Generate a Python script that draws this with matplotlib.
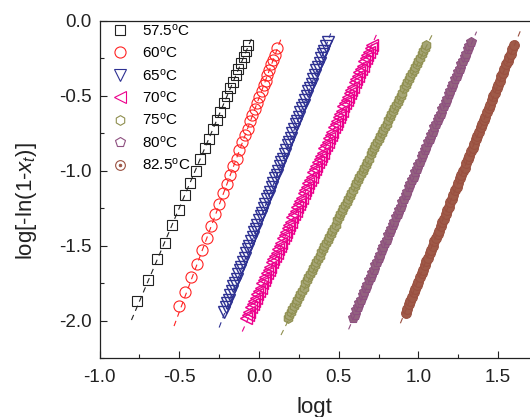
import numpy as np
import matplotlib.pyplot as plt
from matplotlib.lines import Line2D

plt.rcParams['font.family'] = ['Liberation Sans', 'DejaVu Sans']
plt.rcParams['mathtext.fontset'] = 'custom'
plt.rcParams['mathtext.rm'] = 'Liberation Sans'
plt.rcParams['mathtext.it'] = 'Liberation Sans:italic'

# ── data: logt vs log[-ln(1-x_t)] for each temperature ──────────────────────
labels = [r'57.5$^{\rm o}$C', r'60$^{\rm o}$C', r'65$^{\rm o}$C', r'70$^{\rm o}$C',
          r'75$^{\rm o}$C', r'80$^{\rm o}$C', r'82.5$^{\rm o}$C']

x575 = [-0.766, -0.699, -0.641, -0.590, -0.544, -0.503, -0.465, -0.430, -0.398, -0.368,
        -0.340, -0.314, -0.289, -0.265, -0.243, -0.222, -0.202, -0.182, -0.164, -0.146,
        -0.129, -0.113, -0.097, -0.082, -0.067]
y575 = [-1.87, -1.73, -1.59, -1.48, -1.36, -1.26, -1.16, -1.08, -1.00, -0.92,
        -0.85, -0.79, -0.72, -0.66, -0.61, -0.55, -0.50, -0.45, -0.41, -0.36,
        -0.32, -0.28, -0.24, -0.20, -0.16]

x60 = [-0.503, -0.462, -0.424, -0.389, -0.357, -0.327, -0.299, -0.273, -0.248, -0.224,
       -0.202, -0.181, -0.161, -0.141, -0.123, -0.105, -0.088, -0.072, -0.056, -0.041,
       -0.026, -0.012, 0.002, 0.016, 0.029, 0.041, 0.053, 0.065, 0.077, 0.088,
       0.099, 0.110]
y60 = [-1.90, -1.81, -1.71, -1.62, -1.53, -1.45, -1.37, -1.29, -1.22, -1.15,
       -1.09, -1.03, -0.97, -0.92, -0.86, -0.81, -0.76, -0.72, -0.67, -0.63,
       -0.59, -0.55, -0.51, -0.47, -0.43, -0.40, -0.36, -0.33, -0.29, -0.26,
       -0.23, -0.18]

x65 = [-0.22, -0.21, -0.20, -0.19, -0.18, -0.17, -0.16, -0.15, -0.14, -0.13,
       -0.12, -0.11, -0.10, -0.09, -0.08, -0.07, -0.06, -0.05, -0.04, -0.03,
       -0.02, -0.01, 0.00, 0.01, 0.02, 0.03, 0.04, 0.05, 0.06, 0.07,
       0.08, 0.09, 0.10, 0.11, 0.12, 0.13, 0.14, 0.15, 0.16, 0.17,
       0.18, 0.19, 0.20, 0.21, 0.22, 0.23, 0.24, 0.25, 0.26, 0.27,
       0.28, 0.29, 0.30, 0.31, 0.32, 0.33, 0.34, 0.35, 0.36, 0.37,
       0.38, 0.39, 0.40, 0.41, 0.42, 0.43]
y65 = [-1.94, -1.91, -1.88, -1.86, -1.83, -1.80, -1.77, -1.75, -1.72, -1.69,
       -1.66, -1.64, -1.61, -1.58, -1.55, -1.52, -1.50, -1.47, -1.44, -1.41,
       -1.39, -1.36, -1.33, -1.30, -1.28, -1.25, -1.22, -1.19, -1.17, -1.14,
       -1.11, -1.08, -1.05, -1.03, -1.00, -0.97, -0.94, -0.92, -0.89, -0.86,
       -0.83, -0.81, -0.78, -0.75, -0.72, -0.69, -0.67, -0.64, -0.61, -0.58,
       -0.56, -0.53, -0.50, -0.47, -0.45, -0.42, -0.39, -0.36, -0.33, -0.31,
       -0.28, -0.25, -0.22, -0.20, -0.17, -0.14]

x70 = [-0.08, -0.07, -0.06, -0.05, -0.04, -0.03, -0.02, -0.01, 0.00, 0.01,
       0.02, 0.03, 0.04, 0.05, 0.06, 0.07, 0.08, 0.09, 0.10, 0.11,
       0.12, 0.13, 0.14, 0.15, 0.16, 0.17, 0.18, 0.19, 0.20, 0.21,
       0.22, 0.23, 0.24, 0.25, 0.26, 0.27, 0.28, 0.29, 0.30, 0.31,
       0.32, 0.33, 0.34, 0.35, 0.36, 0.37, 0.38, 0.39, 0.40, 0.41,
       0.42, 0.43, 0.44, 0.45, 0.46, 0.47, 0.48, 0.49, 0.50, 0.51,
       0.52, 0.53, 0.54, 0.55, 0.56, 0.57, 0.58, 0.59, 0.60, 0.61,
       0.62, 0.63, 0.64, 0.65, 0.66, 0.67, 0.68, 0.69, 0.70, 0.71]
y70 = [-1.98, -1.96, -1.94, -1.91, -1.89, -1.87, -1.85, -1.82, -1.80, -1.78,
       -1.75, -1.73, -1.71, -1.68, -1.66, -1.64, -1.61, -1.59, -1.57, -1.55,
       -1.52, -1.50, -1.48, -1.45, -1.43, -1.41, -1.38, -1.36, -1.34, -1.31,
       -1.29, -1.27, -1.24, -1.22, -1.20, -1.18, -1.15, -1.13, -1.11, -1.08,
       -1.06, -1.04, -1.01, -0.99, -0.97, -0.94, -0.92, -0.90, -0.88, -0.85,
       -0.83, -0.81, -0.78, -0.76, -0.74, -0.71, -0.69, -0.67, -0.64, -0.62,
       -0.60, -0.57, -0.55, -0.53, -0.51, -0.48, -0.46, -0.44, -0.41, -0.39,
       -0.37, -0.34, -0.32, -0.30, -0.27, -0.25, -0.23, -0.21, -0.18, -0.16]

x75 = [0.18, 0.19, 0.20, 0.21, 0.22, 0.23, 0.24, 0.25, 0.26, 0.27,
       0.28, 0.29, 0.30, 0.31, 0.32, 0.33, 0.34, 0.35, 0.36, 0.37,
       0.38, 0.39, 0.40, 0.41, 0.42, 0.43, 0.44, 0.45, 0.46, 0.47,
       0.48, 0.49, 0.50, 0.51, 0.52, 0.53, 0.54, 0.55, 0.56, 0.57,
       0.58, 0.59, 0.60, 0.61, 0.62, 0.63, 0.64, 0.65, 0.66, 0.67,
       0.68, 0.69, 0.70, 0.71, 0.72, 0.73, 0.74, 0.75, 0.76, 0.77,
       0.78, 0.79, 0.80, 0.81, 0.82, 0.83, 0.84, 0.85, 0.86, 0.87,
       0.88, 0.89, 0.90, 0.91, 0.92, 0.93, 0.94, 0.95, 0.96, 0.97,
       0.98, 0.99, 1.00, 1.01, 1.02, 1.03, 1.04, 1.05]
y75 = [-1.98, -1.96, -1.94, -1.92, -1.90, -1.88, -1.86, -1.84, -1.82, -1.80,
       -1.78, -1.75, -1.73, -1.71, -1.69, -1.67, -1.65, -1.63, -1.61, -1.59,
       -1.57, -1.54, -1.52, -1.50, -1.48, -1.46, -1.44, -1.42, -1.40, -1.38,
       -1.36, -1.33, -1.31, -1.29, -1.27, -1.25, -1.23, -1.21, -1.19, -1.17,
       -1.15, -1.13, -1.10, -1.08, -1.06, -1.04, -1.02, -1.00, -0.98, -0.96,
       -0.94, -0.92, -0.89, -0.87, -0.85, -0.83, -0.81, -0.79, -0.77, -0.75,
       -0.73, -0.71, -0.69, -0.66, -0.64, -0.62, -0.60, -0.58, -0.56, -0.54,
       -0.52, -0.50, -0.48, -0.45, -0.43, -0.41, -0.39, -0.37, -0.35, -0.33,
       -0.31, -0.29, -0.27, -0.25, -0.22, -0.20, -0.18, -0.16]

x80 = [0.59, 0.60, 0.61, 0.62, 0.63, 0.64, 0.65, 0.66, 0.67, 0.68,
       0.69, 0.70, 0.71, 0.72, 0.73, 0.74, 0.75, 0.76, 0.77, 0.78,
       0.79, 0.80, 0.81, 0.82, 0.83, 0.84, 0.85, 0.86, 0.87, 0.88,
       0.89, 0.90, 0.91, 0.92, 0.93, 0.94, 0.95, 0.96, 0.97, 0.98,
       0.99, 1.00, 1.01, 1.02, 1.03, 1.04, 1.05, 1.06, 1.07, 1.08,
       1.09, 1.10, 1.11, 1.12, 1.13, 1.14, 1.15, 1.16, 1.17, 1.18,
       1.19, 1.20, 1.21, 1.22, 1.23, 1.24, 1.25, 1.26, 1.27, 1.28,
       1.29, 1.30, 1.31, 1.32, 1.33]
y80 = [-1.98, -1.96, -1.93, -1.91, -1.88, -1.86, -1.83, -1.81, -1.78, -1.76,
       -1.73, -1.71, -1.68, -1.66, -1.63, -1.61, -1.58, -1.56, -1.53, -1.51,
       -1.48, -1.46, -1.43, -1.41, -1.39, -1.36, -1.34, -1.31, -1.29, -1.26,
       -1.24, -1.21, -1.19, -1.16, -1.14, -1.11, -1.09, -1.06, -1.04, -1.01,
       -0.99, -0.96, -0.94, -0.91, -0.89, -0.86, -0.84, -0.81, -0.79, -0.76,
       -0.74, -0.71, -0.69, -0.66, -0.64, -0.62, -0.59, -0.57, -0.54, -0.52,
       -0.49, -0.47, -0.44, -0.42, -0.39, -0.37, -0.34, -0.32, -0.29, -0.27,
       -0.24, -0.22, -0.19, -0.17, -0.14]

x825 = [0.92, 0.93, 0.94, 0.95, 0.96, 0.97, 0.98, 0.99, 1.00, 1.01,
        1.02, 1.03, 1.04, 1.05, 1.06, 1.07, 1.08, 1.09, 1.10, 1.11,
        1.12, 1.13, 1.14, 1.15, 1.16, 1.17, 1.18, 1.19, 1.20, 1.21,
        1.22, 1.23, 1.24, 1.25, 1.26, 1.27, 1.28, 1.29, 1.30, 1.31,
        1.32, 1.33, 1.34, 1.35, 1.36, 1.37, 1.38, 1.39, 1.40, 1.41,
        1.42, 1.43, 1.44, 1.45, 1.46, 1.47, 1.48, 1.49, 1.50, 1.51,
        1.52, 1.53, 1.54, 1.55, 1.56, 1.57, 1.58, 1.59, 1.60]
y825 = [-1.95, -1.92, -1.89, -1.87, -1.84, -1.81, -1.79, -1.76, -1.74, -1.71,
        -1.68, -1.66, -1.63, -1.60, -1.58, -1.55, -1.53, -1.50, -1.47, -1.45,
        -1.42, -1.40, -1.37, -1.34, -1.32, -1.29, -1.26, -1.24, -1.21, -1.19,
        -1.16, -1.13, -1.11, -1.08, -1.05, -1.03, -1.00, -0.98, -0.95, -0.92,
        -0.90, -0.87, -0.85, -0.82, -0.79, -0.77, -0.74, -0.71, -0.69, -0.66,
        -0.64, -0.61, -0.58, -0.56, -0.53, -0.50, -0.48, -0.45, -0.43, -0.40,
        -0.37, -0.35, -0.32, -0.29, -0.27, -0.24, -0.22, -0.19, -0.16]

# linear (Avrami) fits: slope, intercept and the x range of the dashed line
fit_slope = [2.49, 2.852, 2.80, 2.35, 2.11, 2.471, 2.589]
fit_icpt = [-0.003, -0.515, -1.345, -1.825, -2.386, -3.446, -4.313]
fit_x0 = [-0.80, -0.533, -0.25, -0.105, 0.138, 0.562, 0.887]
fit_x1 = [-0.04, 0.137, 0.45, 0.74, 1.086, 1.365, 1.642]

xs = [x575, x60, x65, x70, x75, x80, x825]
ys = [y575, y60, y65, y70, y75, y80, y825]

colors = ['#222222', '#ff2222', '#2e3192', '#ec008c', '#8f8f4f', '#8e5080', '#9a5040']
# dense runs overlap into a solid band in the original
fills = ['none', 'none', 'none', 'none', '#a5a575', '#93627f', '#9f5a48']
markers = ['s', 'o', 'v', '<', 'h', 'p', 'o']
msizes = [6.5, 8, 8, 8, 7, 7, 7]
mews = [0.8, 0.8, 1.0, 1.0, 0.8, 0.8, 0.8]

fig = plt.figure(figsize=(5.3, 4.17), dpi=100)
ax = fig.add_axes([0.1879, 0.1408, 0.8121, 0.8096])

handles = []
for i in range(7):
    xf = np.array([fit_x0[i], fit_x1[i]])
    ax.plot(xf, fit_slope[i] * xf + fit_icpt[i], linestyle=(0, (5, 4)),
            color=colors[i], lw=0.8, zorder=3)
    ax.plot(xs[i], ys[i], linestyle='none', marker=markers[i],
            ms=msizes[i], mfc=fills[i], mec=colors[i], mew=mews[i], zorder=2)
    h = Line2D([], [], linestyle='none', marker=markers[i], ms=msizes[i],
               mfc='none', mec=colors[i], mew=0.8)
    if i == 6:
        d = Line2D([], [], linestyle='none', marker='o', ms=2,
                   mfc=colors[i], mec=colors[i], mew=0.5)
        handles.append((h, d))
    else:
        handles.append(h)

ax.legend(handles, labels, loc='upper left', bbox_to_anchor=(0.03, 0.995),
          frameon=False, fontsize=11, handlelength=1.0, handletextpad=0.9,
          borderpad=0, borderaxespad=0, labelspacing=0.42)

ax.set_xlim(-1.0, 1.7)
ax.set_ylim(-2.25, 0.0)
ax.set_xticks([-1.0, -0.5, 0.0, 0.5, 1.0, 1.5])
ax.set_yticks([0.0, -0.5, -1.0, -1.5, -2.0])
ax.set_xticks(np.arange(-1.0, 1.7, 0.25), minor=True)
ax.set_yticks(np.arange(-2.25, 0.01, 0.25), minor=True)
ax.xaxis.set_major_formatter(plt.FormatStrFormatter('%.1f'))
ax.yaxis.set_major_formatter(plt.FormatStrFormatter('%.1f'))
ax.tick_params(which='both', direction='in', colors='#222222', labelsize=13.5)
ax.tick_params(which='major', length=5, width=0.8)
ax.tick_params(which='minor', length=3, width=0.8)
ax.tick_params(axis='x', pad=8)
ax.tick_params(axis='y', pad=6)
ax.spines['right'].set_visible(False)
for s in ['left', 'bottom', 'top']:
    ax.spines[s].set_linewidth(0.9)
    ax.spines[s].set_color('#222222')

ax.set_xlabel('logt', fontsize=16, color='#222222')
ax.set_ylabel(r'log[-ln(1-$x_t$)]', fontsize=16, color='#222222')
ax.xaxis.set_label_coords(0.5, -0.115)
ax.yaxis.set_label_coords(-0.14, 0.466)

fig.savefig('out.png', dpi=100)
